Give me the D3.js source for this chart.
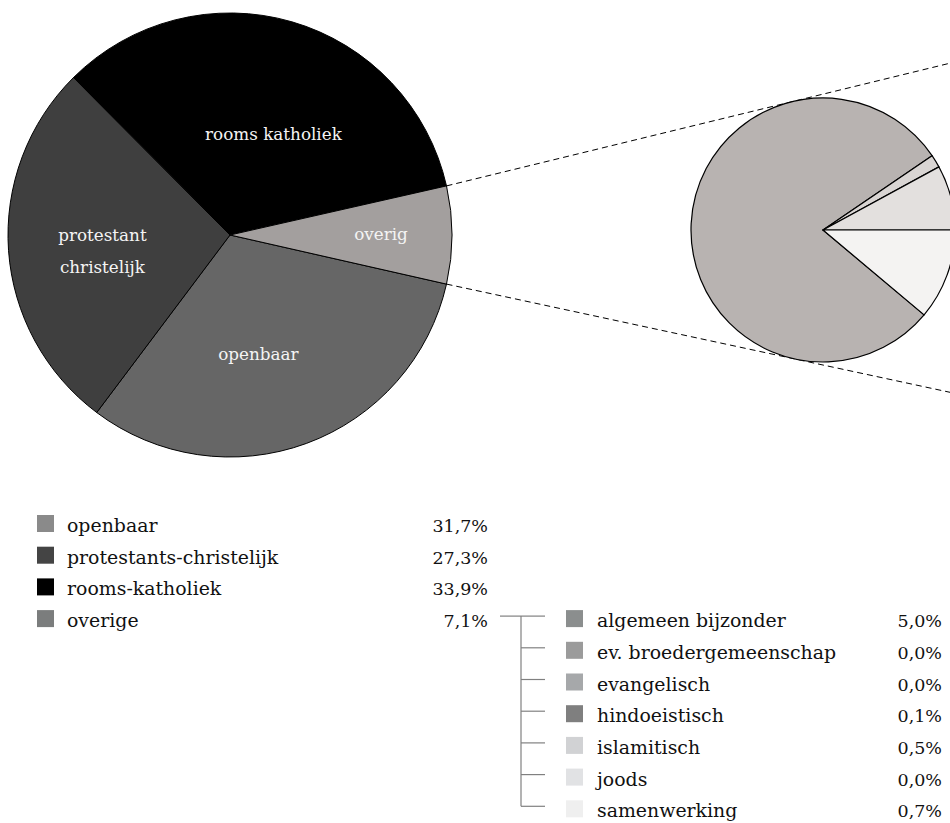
<!DOCTYPE html>
<html>
<head>
<meta charset="utf-8">
<script src="https://cdn.jsdelivr.net/npm/d3@7"></script>
<style>
    body { margin: 0; background: #ffffff; }
    svg { display: block; font-family: "DejaVu Serif", "Liberation Serif", serif; }
</style>
</head>
<body>
<div class="chart"></div>
<script>
// main categories (legend order == clockwise order in the pie)
const mainCategories = ["openbaar", "protestants-christelijk", "rooms-katholiek", "overige"];
const mainPieLabels = [["openbaar"], ["protestant", "christelijk"], ["rooms katholiek"], ["overig"]];
const mainValues = [31.7, 27.3, 33.9, 7.1];

// breakdown of "overige"
const subCategories = ["algemeen bijzonder", "ev. broedergemeenschap", "evangelisch", "hindoeistisch", "islamitisch", "joods", "samenwerking"];
const subValues = [5.0, 0.0, 0.0, 0.1, 0.5, 0.0, 0.7];

// colours
const mainPieColors = ["#666666", "#3f3f3f", "#000000", "#a39f9e"];
const mainSwatchColors = ["#8a8a8a", "#444444", "#000000", "#7b7d7d"];
const subPieColors = ["#b8b3b1", "#ccc8c6", "#d2cecc", "#d9d5d3", "#e3e0de", "#ebe9e7", "#f4f3f2"];
const subSwatchColors = ["#8b8e8e", "#9b9b9b", "#a6a8aa", "#7f7f7f", "#d1d2d4", "#e1e2e4", "#efefef"];

// small nudges for the slice labels (dx, dy from the centroid)
const labelNudge = [[-13, 7], [-8, 9], [10, 15], [0, 0]];

const width = 950, height = 823;
const mainCenter = { x: 230, y: 235 }, mainRadius = 222;
const subCenter = { x: 823, y: 230 }, subRadius = 132;

const fmt = (v) => v.toFixed(1).replace(".", ",") + "%";

const svg = d3.select(".chart").append("svg")
    .attr("width", width)
    .attr("height", height);

// ---- main pie: "overige" centred on 3 o'clock
const mainTotal = d3.sum(mainValues);
const lastFrac = mainValues[mainValues.length - 1] / mainTotal;
const mainStart = Math.PI / 2 + Math.PI * lastFrac;

const mainPie = d3.pie().sort(null)
    .startAngle(mainStart)
    .endAngle(mainStart + 2 * Math.PI);
const mainArcs = mainPie(mainValues);

const mainArc = d3.arc().innerRadius(0).outerRadius(mainRadius);

const gMain = svg.append("g")
    .attr("transform", `translate(${mainCenter.x}, ${mainCenter.y})`);

gMain.selectAll("path")
    .data(mainArcs)
    .enter().append("path")
    .attr("d", mainArc)
    .attr("fill", (d, i) => mainPieColors[i])
    .attr("stroke", "#000")
    .attr("stroke-width", 1);

// labels inside the slices
gMain.selectAll("text")
    .data(mainArcs)
    .enter().append("text")
    .attr("transform", function (d, i) {
        let f = (d.value / mainTotal < 0.1) ? 0.68 : 0.54;
        let c = d3.arc().innerRadius(mainRadius * f).outerRadius(mainRadius * f).centroid(d);
        return `translate(${c[0] + labelNudge[i][0]}, ${c[1] + labelNudge[i][1]})`;
    })
    .attr("text-anchor", "middle")
    .attr("fill", "#f4f4f4")
    .style("font-size", "16.8px")
    .each(function (d, i) {
        let lines = mainPieLabels[i];
        let t = d3.select(this);
        lines.forEach(function (line, k) {
            t.append("tspan")
                .attr("x", 0)
                .attr("y", 5 + (k - (lines.length - 1) / 2) * 31.7)
                .text(line);
        });
    });

// ---- small pie for the breakdown
const subTotal = d3.sum(subValues);
const subStart = Math.PI / 2 + 2 * Math.PI * subValues[subValues.length - 1] / subTotal;

const subPie = d3.pie().sort(null)
    .startAngle(subStart)
    .endAngle(subStart + 2 * Math.PI);
const subArc = d3.arc().innerRadius(0).outerRadius(subRadius);

// dashed tangent lines from the "overige" slice to the small pie
const overigArc = mainArcs[mainArcs.length - 1];
[overigArc.startAngle, overigArc.endAngle].forEach(function (a, k) {
    let px = mainCenter.x + mainRadius * Math.sin(a);
    let py = mainCenter.y - mainRadius * Math.cos(a);
    let dx = subCenter.x - px, dy = subCenter.y - py;
    let d = Math.sqrt(dx * dx + dy * dy);
    let theta = Math.atan2(dy, dx);
    let alpha = Math.asin(subRadius / d);
    let dir = (k === 0) ? theta - alpha : theta + alpha;
    let len = (width + 20 - px) / Math.cos(dir);
    svg.append("line")
        .attr("x1", px).attr("y1", py)
        .attr("x2", px + len * Math.cos(dir))
        .attr("y2", py + len * Math.sin(dir))
        .attr("stroke", "#000")
        .attr("stroke-width", 1)
        .attr("stroke-dasharray", "6,4");
});

const gSub = svg.append("g")
    .attr("transform", `translate(${subCenter.x}, ${subCenter.y})`);

gSub.selectAll("path")
    .data(subPie(subValues).filter(d => d.value > 0))
    .enter().append("path")
    .attr("d", subArc)
    .attr("fill", d => subPieColors[d.index])
    .attr("stroke", "#000")
    .attr("stroke-width", 1.2)
    .attr("stroke-linejoin", "round");

// ---- legends
const rowStep = 31.7;
const rowTop = d3.scaleLinear().domain([0, 1]).range([515, 515 + rowStep]);
const swatch = 17;

const gLegend = svg.append("g").style("font-size", "18.9px").attr("fill", "#111");

const mainRows = gLegend.selectAll(".main-row")
    .data(mainCategories)
    .enter().append("g")
    .attr("class", "main-row")
    .attr("transform", (d, i) => `translate(0, ${rowTop(i)})`);

mainRows.append("rect")
    .attr("x", 37).attr("y", 0)
    .attr("width", swatch).attr("height", swatch)
    .attr("fill", (d, i) => mainSwatchColors[i]);

mainRows.append("text")
    .attr("x", 67).attr("y", swatch)
    .text(d => d);

mainRows.append("text")
    .attr("x", 488).attr("y", swatch)
    .attr("text-anchor", "end")
    .style("font-size", "17.5px")
    .text((d, i) => fmt(mainValues[i]));

// sub legend lines up with the "overige" row
const subOffset = mainCategories.length - 1;

const subRows = gLegend.selectAll(".sub-row")
    .data(subCategories)
    .enter().append("g")
    .attr("class", "sub-row")
    .attr("transform", (d, i) => `translate(0, ${rowTop(i + subOffset)})`);

subRows.append("rect")
    .attr("x", 566).attr("y", 0)
    .attr("width", swatch).attr("height", swatch)
    .attr("fill", (d, i) => subSwatchColors[i]);

subRows.append("text")
    .attr("x", 597).attr("y", swatch)
    .text(d => d);

subRows.append("text")
    .attr("x", 942).attr("y", swatch)
    .attr("text-anchor", "end")
    .style("font-size", "17.5px")
    .text((d, i) => fmt(subValues[i]));

// connector bracket
const lineY = (i) => rowTop(i + subOffset) + 6;
const gBracket = svg.append("g")
    .attr("stroke", "#808080")
    .attr("stroke-width", 1.2);

gBracket.append("line")
    .attr("x1", 500).attr("x2", 521)
    .attr("y1", lineY(0)).attr("y2", lineY(0));

gBracket.append("line")
    .attr("x1", 521).attr("x2", 521)
    .attr("y1", lineY(0)).attr("y2", lineY(subCategories.length - 1));

gBracket.selectAll(".tick")
    .data(subCategories)
    .enter().append("line")
    .attr("class", "tick")
    .attr("x1", 521).attr("x2", 545)
    .attr("y1", (d, i) => lineY(i))
    .attr("y2", (d, i) => lineY(i));
</script>
</body>
</html>
